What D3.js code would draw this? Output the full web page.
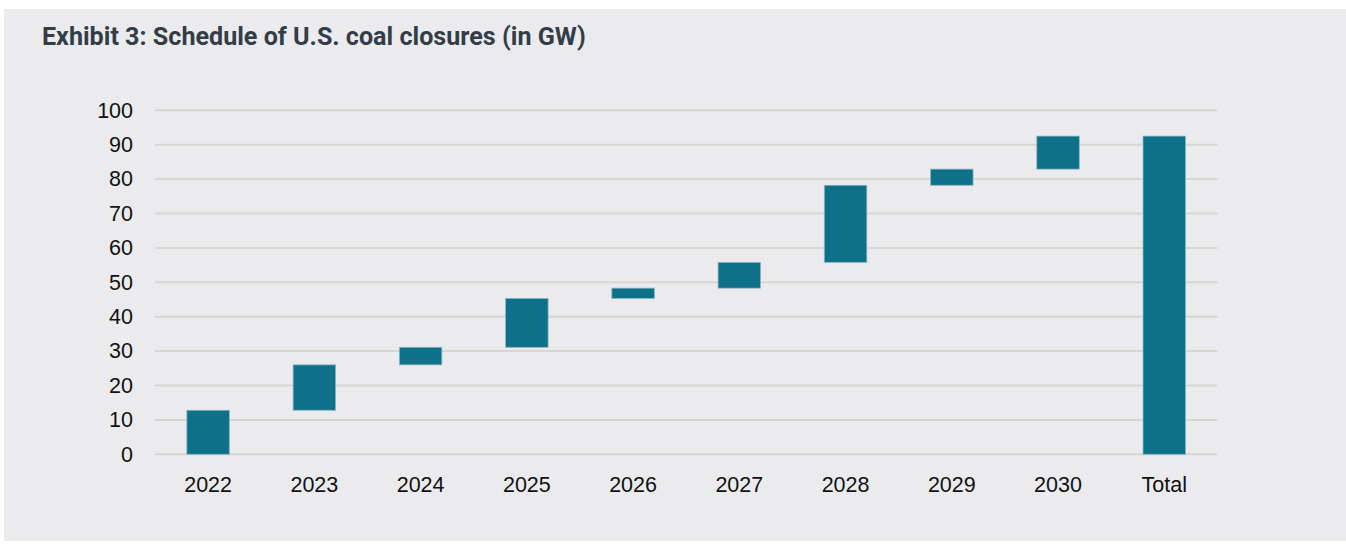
<!DOCTYPE html>
<html>
<head>
<meta charset="utf-8">
<script src="https://cdn.jsdelivr.net/npm/d3@7"></script>
<style>
  html, body { margin: 0; padding: 0; background: #ffffff; }
  svg { display: block; }
</style>
</head>
<body>
<svg id="chart" width="1346" height="544"></svg>
<script>
// Yearly coal capacity closures (GW); the last column is the running total.
const categories = ["2022", "2023", "2024", "2025", "2026", "2027", "2028", "2029", "2030"];
const closures = [12.8, 13.2, 5.1, 14.2, 3.0, 7.5, 22.4, 4.7, 9.6];
const totalLabel = "Total";
const yTicks = [0, 10, 20, 30, 40, 50, 60, 70, 80, 90, 100];
const title = "Exhibit 3: Schedule of U.S. coal closures (in GW)";

// Build waterfall segments: each bar floats from the previous cumulative level.
let running = 0;
const segments = categories.map((c, i) => {
  const start = running;
  running += closures[i];
  return { label: c, start: start, end: running };
});
segments.push({ label: totalLabel, start: 0, end: running });

const svg = d3.select("#chart");
const W = 1346, H = 544;

// Panel background
svg.append("rect")
  .attr("x", 4).attr("y", 9)
  .attr("width", W - 4).attr("height", 532)
  .attr("fill", "#ebebed");

// Title
const t = svg.append("text")
  .attr("x", 42).attr("y", 45)
  .attr("font-family", "Roboto, 'Liberation Sans', sans-serif")
  .attr("font-weight", "bold")
  .attr("font-size", 21)
  .attr("fill", "#333d47")
  .text(title);
const tw = t.node().getComputedTextLength();
if (tw > 0) t.attr("font-size", 21 * 544 / tw);

const margin = { left: 155, right: 1217.4, top: 110.3, bottom: 454.3 };

const x = d3.scaleBand()
  .domain(segments.map(d => d.label))
  .range([margin.left, margin.right])
  .paddingInner(0.6)
  .paddingOuter(0.3);

const y = d3.scaleLinear()
  .domain([0, 100])
  .range([margin.bottom, margin.top]);

// Horizontal gridlines
svg.append("g")
  .selectAll("line")
  .data(yTicks)
  .join("line")
  .attr("x1", margin.left).attr("x2", margin.right)
  .attr("y1", d => y(d)).attr("y2", d => y(d))
  .attr("stroke", "#d6d6d3")
  .attr("stroke-width", 2);

// Y axis labels
const yAxis = svg.append("g")
  .attr("transform", `translate(${margin.left - 22},0)`)
  .call(d3.axisLeft(y).tickValues(yTicks).tickSize(0).tickPadding(0));
yAxis.select(".domain").remove();
yAxis.selectAll("text")
  .attr("font-family", "'Liberation Sans', Arial, sans-serif")
  .attr("font-size", 21.5)
  .attr("fill", "#111111");

// X axis labels
const xAxis = svg.append("g")
  .attr("transform", `translate(0,${margin.bottom})`)
  .call(d3.axisBottom(x).tickSize(0).tickPadding(22));
xAxis.select(".domain").remove();
xAxis.selectAll("text")
  .attr("font-family", "'Liberation Sans', Arial, sans-serif")
  .attr("font-size", 21.5)
  .attr("fill", "#111111");

// Waterfall bars
svg.append("g")
  .selectAll("rect")
  .data(segments)
  .join("rect")
  .attr("x", d => x(d.label))
  .attr("width", x.bandwidth())
  .attr("y", d => y(d.end))
  .attr("height", d => y(d.start) - y(d.end))
  .attr("fill", "#0f7089")
  .attr("stroke", "#8bb6c3")
  .attr("stroke-width", 0.8);
</script>
</body>
</html>
